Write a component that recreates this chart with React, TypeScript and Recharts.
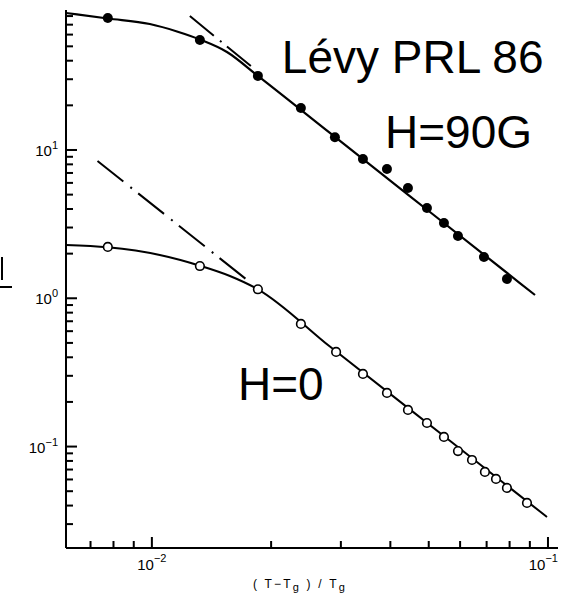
import React from "react";
import { ComposedChart, XAxis, YAxis, Line, Scatter, ReferenceDot } from "recharts";

// axis ranges and ticks
const xDomain = [0.00607, 0.106];
const yDomain = [0.0207, 87.9];
const xMajor = [0.01, 0.1];
const xMajorExp = ["\u22122", "\u22121"];
const xMinor = [0.007, 0.008, 0.009, 0.02, 0.03, 0.04, 0.05, 0.06, 0.07, 0.08, 0.09];
const yMajor = [0.1, 1, 10];
const yMajorExp = ["\u22121", "0", "1"];
const yMinor = [
  0.03, 0.04, 0.05, 0.06, 0.07, 0.08, 0.09,
  0.2, 0.3, 0.4, 0.5, 0.6, 0.7, 0.8, 0.9,
  2, 3, 4, 5, 6, 7, 8, 9,
  20, 30, 40, 50, 60, 70, 80,
];

// H = 90 G measurements (filled circles)
const x90 = [0.00774, 0.01322, 0.01852, 0.02378, 0.02898, 0.03411, 0.03922, 0.04431, 0.04948, 0.05462, 0.05926, 0.06892, 0.07877];
const y90 = [77.6, 55.2, 31.6, 19.2, 12.2, 8.69, 7.45, 5.54, 4.06, 3.22, 2.63, 1.9, 1.35];

// H = 0 measurements (open circles)
const x0 = [0.00774, 0.01322, 0.01852, 0.02378, 0.02918, 0.03411, 0.03922, 0.04431, 0.04948, 0.05462, 0.05926, 0.0643, 0.06931, 0.07392, 0.07877, 0.08851];
const y0 = [2.22, 1.65, 1.15, 0.671, 0.435, 0.309, 0.23, 0.1766, 0.1442, 0.1161, 0.0933, 0.0812, 0.0674, 0.0605, 0.0526, 0.0417];

// fitted curves
const fitX90 = [0.00607, 0.00774, 0.00988, 0.01157, 0.01322, 0.01547, 0.01852, 0.02815, 0.05036, 0.09274];
const fitY90 = [83.9, 77.0, 70.7, 63.0, 55.6, 45.8, 31.6, 13.04, 3.818, 1.052];
const fitX0 = [0.00607, 0.00774, 0.01047, 0.01322, 0.01574, 0.01852, 0.02815, 0.05655, 0.09943];
const fitY0 = [2.288, 2.207, 1.959, 1.659, 1.414, 1.15, 0.4724, 0.1094, 0.0335];

// power-law asymptotes (dash-dot)
const asymX90 = [0.01247, 0.01778];
const asymY90 = [80.1, 36.8];
const asymX0 = [0.00729, 0.01778];
const asymY0 = [8.43, 1.268];

// annotations
const notes = [
  { x: 0.02129, y: 33.0, text: "L\u00e9vy PRL 86" },
  { x: 0.03877, y: 10.31, text: "H=90G" },
  { x: 0.01649, y: 0.2061, text: "H=0" },
];

const zip = (xs: number[], ys: number[]) => xs.map((x, i) => ({ x, y: ys[i] }));

const pts90 = zip(x90, y90);
const pts0 = zip(x0, y0);
const fit90 = zip(fitX90, fitY90);
const fit0 = zip(fitX0, fitY0);
const asym90 = zip(asymX90, asymY90);
const asym0 = zip(asymX0, asymY0);

const xTicks = [...xMinor, ...xMajor].sort((a, b) => a - b);
const yTicks = [...yMinor, ...yMajor].sort((a, b) => a - b);

const FONT = "'Liberation Sans', Arial, sans-serif";
const TW = 2; // tick thickness

const xLen = (v: number) => (xMajor.includes(v) ? 11 : 7);
const yLen = (v: number) => (yMajor.includes(v) ? 11 : 7);

function BottomTick(props: any) {
  const { x, y, payload } = props;
  const i = xMajor.indexOf(payload.value);
  const last = i === xMajor.length - 1;
  const len = xLen(payload.value);
  return (
    <g>
      <rect x={x - TW / 2} y={y - len} width={TW} height={len} fill="#000" />
      {i >= 0 && (
        <text x={last ? x + 10 : x} y={y + 22} textAnchor={last ? "end" : "middle"} fontFamily={FONT} fontSize={15} fill="#000">
          10<tspan dy={-8} fontSize={11}>{xMajorExp[i]}</tspan>
        </text>
      )}
    </g>
  );
}

function TopTick(props: any) {
  const { x, y, payload } = props;
  return <rect x={x - TW / 2} y={y} width={TW} height={xLen(payload.value)} fill="#000" />;
}

function LeftTick(props: any) {
  const { x, y, payload } = props;
  const i = yMajor.indexOf(payload.value);
  return (
    <g>
      <rect x={x} y={y - TW / 2} width={yLen(payload.value)} height={TW} fill="#000" />
      {i >= 0 && (
        <text x={x - 8} y={y + 6} textAnchor="end" fontFamily={FONT} fontSize={15} fill="#000">
          10<tspan dy={-7} fontSize={11}>{yMajorExp[i]}</tspan>
        </text>
      )}
    </g>
  );
}

function RightTick(props: any) {
  const { x, y, payload } = props;
  const len = yLen(payload.value);
  return <rect x={x - len} y={y - TW / 2} width={len} height={TW} fill="#000" />;
}

const filledDot = (p: any) => <circle cx={p.cx} cy={p.cy} r={5} fill="#000" />;
const openDot = (p: any) => <circle cx={p.cx} cy={p.cy} r={4.3} fill="#fff" stroke="#000" strokeWidth={1.6} />;

const xLabel = (p: any) => {
  const vb = p.viewBox;
  return (
    <text x={vb.x + vb.width / 2 - 12} y={vb.y + 40} textAnchor="middle" fontFamily={FONT} fontSize={12} letterSpacing={2.2} fill="#000">
      ( T{"\u2212"}T<tspan dy={3} fontSize={11}>g</tspan>
      <tspan dy={-3}> ) / T</tspan>
      <tspan dy={3} fontSize={11}>g</tspan>
    </text>
  );
};

// the y label is cut off at the left edge of the picture
const yLabel = () => (
  <g stroke="#000" strokeWidth={2}>
    <line x1={2} y1={257} x2={2} y2={280} />
    <line x1={0} y1={287} x2={12} y2={287} />
  </g>
);

const noteLabel = (text: string) => (p: any) => (
  <text x={p.viewBox.x} y={p.viewBox.y} fontFamily={FONT} fontSize={46} fill="#000">
    {text}
  </text>
);

export default function App() {
  const axisLine = { stroke: "#000", strokeWidth: 2 };
  return (
    <div style={{ position: "absolute", left: 0, top: 0, background: "#fff" }}>
      <ComposedChart width={561} height={605} margin={{ top: 10, right: 3, bottom: 0, left: 0 }}>
        <XAxis
          dataKey="x"
          type="number"
          scale="log"
          domain={xDomain}
          allowDataOverflow
          ticks={xTicks}
          interval={0}
          height={57}
          tickSize={0}
          tickMargin={0}
          tickLine={false}
          axisLine={axisLine}
          tick={BottomTick}
          label={{ content: xLabel }}
        />
        <XAxis
          xAxisId="top"
          orientation="top"
          dataKey="x"
          type="number"
          scale="log"
          domain={xDomain}
          allowDataOverflow
          ticks={xTicks}
          interval={0}
          height={0}
          tickSize={0}
          tickMargin={0}
          tickLine={false}
          axisLine={axisLine}
          tick={TopTick}
        />
        <YAxis
          dataKey="y"
          type="number"
          scale="log"
          domain={yDomain}
          allowDataOverflow
          ticks={yTicks}
          interval={0}
          width={66}
          tickSize={0}
          tickMargin={0}
          tickLine={false}
          axisLine={axisLine}
          tick={LeftTick}
          label={{ content: yLabel }}
        />
        <YAxis
          yAxisId="right"
          orientation="right"
          dataKey="y"
          type="number"
          scale="log"
          domain={yDomain}
          allowDataOverflow
          ticks={yTicks}
          interval={0}
          width={0}
          tickSize={0}
          tickMargin={0}
          tickLine={false}
          axisLine={axisLine}
          tick={RightTick}
        />
        <Line data={asym90} dataKey="y" type="linear" stroke="#000" strokeWidth={2} strokeDasharray="31 8 2 7" dot={false} activeDot={false} isAnimationActive={false} />
        <Line data={asym0} dataKey="y" type="linear" stroke="#000" strokeWidth={2} strokeDasharray="33 9 2 8" dot={false} activeDot={false} isAnimationActive={false} />
        <Line data={fit90} dataKey="y" type="monotone" stroke="#000" strokeWidth={2.2} dot={false} activeDot={false} isAnimationActive={false} />
        <Line data={fit0} dataKey="y" type="monotone" stroke="#000" strokeWidth={2} dot={false} activeDot={false} isAnimationActive={false} />
        <Scatter data={pts90} dataKey="y" shape={filledDot} isAnimationActive={false} />
        <Scatter data={pts0} dataKey="y" shape={openDot} isAnimationActive={false} />
        {notes.map((n) => (
          <ReferenceDot key={n.text} x={n.x} y={n.y} r={0} fill="none" stroke="none" label={{ content: noteLabel(n.text) }} />
        ))}
      </ComposedChart>
    </div>
  );
}
